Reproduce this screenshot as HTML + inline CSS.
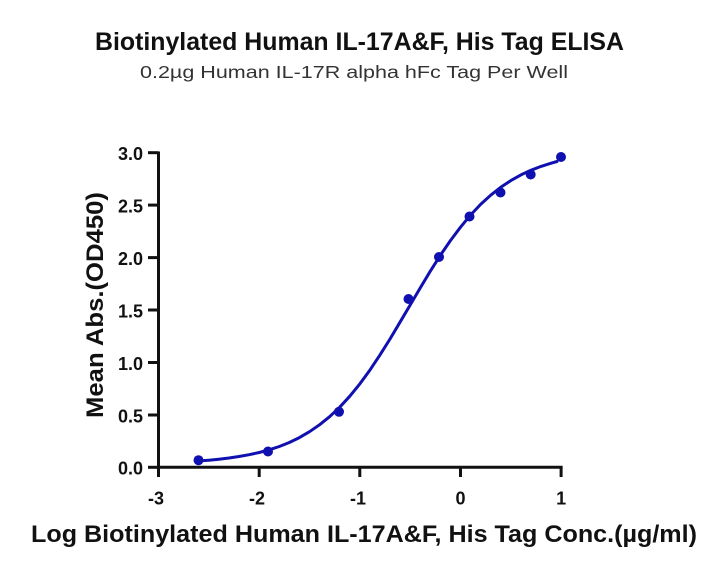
<!DOCTYPE html>
<html><head><meta charset="utf-8"><style>
html,body{margin:0;padding:0;background:#fff;}
svg{display:block;}
text{font-family:"Liberation Sans","Noto Sans CJK SC",sans-serif;fill:#111;}
</style></head><body>
<svg width="720" height="573" viewBox="0 0 720 573" xmlns="http://www.w3.org/2000/svg">
<text x="95" y="50" font-size="25" font-weight="bold" textLength="529" lengthAdjust="spacingAndGlyphs">Biotinylated Human IL-17A&amp;F, His Tag ELISA</text>
<text x="140" y="78" font-size="17.5" textLength="428" lengthAdjust="spacingAndGlyphs" style="fill:#333">0.2µg Human IL-17R alpha hFc Tag Per Well</text>
<text x="31" y="542" font-size="24" font-weight="bold" textLength="666" lengthAdjust="spacingAndGlyphs">Log Biotinylated Human IL-17A&amp;F, His  Tag Conc.(µg/ml)</text>
<text transform="translate(103,418) rotate(-90)" x="0" y="0" font-size="24" font-weight="bold" textLength="226" lengthAdjust="spacingAndGlyphs">Mean Abs.(OD450)</text>
<g stroke="#111" stroke-width="3" fill="none">
<line x1="158.5" y1="151.5" x2="158.5" y2="468.8"/>
<line x1="157" y1="467.3" x2="562.6" y2="467.3"/>
<line x1="148" y1="152.7" x2="158.5" y2="152.7"/>
<line x1="148" y1="205.1" x2="158.5" y2="205.1"/>
<line x1="148" y1="257.6" x2="158.5" y2="257.6"/>
<line x1="148" y1="310" x2="158.5" y2="310"/>
<line x1="148" y1="362.5" x2="158.5" y2="362.5"/>
<line x1="148" y1="415" x2="158.5" y2="415"/>
<line x1="148" y1="467.3" x2="158.5" y2="467.3"/>
<line x1="158.5" y1="467" x2="158.5" y2="477"/>
<line x1="259.2" y1="467" x2="259.2" y2="477"/>
<line x1="359.8" y1="467" x2="359.8" y2="477"/>
<line x1="460.5" y1="467" x2="460.5" y2="477"/>
<line x1="561.1" y1="467" x2="561.1" y2="477"/>
</g>
<g font-size="18" font-weight="bold" text-anchor="end">
<text x="143" y="160">3.0</text>
<text x="143" y="212.5">2.5</text>
<text x="143" y="265">2.0</text>
<text x="143" y="317.5">1.5</text>
<text x="143" y="370">1.0</text>
<text x="143" y="422.5">0.5</text>
<text x="143" y="474.5">0.0</text>
</g>
<g font-size="18" font-weight="bold" text-anchor="middle">
<text x="156" y="504.5">-3</text>
<text x="257" y="504.5">-2</text>
<text x="358" y="504.5">-1</text>
<text x="460.5" y="504.5">0</text>
<text x="561.1" y="504.5">1</text>
</g>
<polyline fill="none" stroke="#1010b0" stroke-width="3" stroke-linejoin="round" stroke-linecap="round" points="198.8,460.9 208.8,460.2 218.9,459.2 229.0,458.0 239.0,456.5 249.1,454.7 259.2,452.5 269.2,449.8 279.3,446.5 289.3,442.5 299.4,437.6 309.5,431.7 319.5,424.8 329.6,416.7 339.7,407.2 349.7,396.3 359.8,383.9 369.9,370.1 379.9,355.1 390.0,339.0 400.0,322.2 410.1,305.1 420.2,288.0 430.2,271.3 440.3,255.4 450.4,240.6 460.5,227.2 470.5,215.1 480.6,204.4 490.7,195.2 500.7,187.3 510.8,180.6 520.9,174.9 530.9,170.3 541.0,166.4 551.1,163.2 557,161.5"/>
<g fill="#1010b0">
<circle cx="198.5" cy="460.2" r="5"/>
<circle cx="268" cy="451.5" r="5"/>
<circle cx="339" cy="411.8" r="5"/>
<circle cx="408.5" cy="299" r="5"/>
<circle cx="439" cy="257" r="5"/>
<circle cx="469.5" cy="216.5" r="5"/>
<circle cx="500.5" cy="192.5" r="5"/>
<circle cx="530.7" cy="174.5" r="5"/>
<circle cx="561" cy="157" r="5"/>
</g>
</svg>
</body></html>
